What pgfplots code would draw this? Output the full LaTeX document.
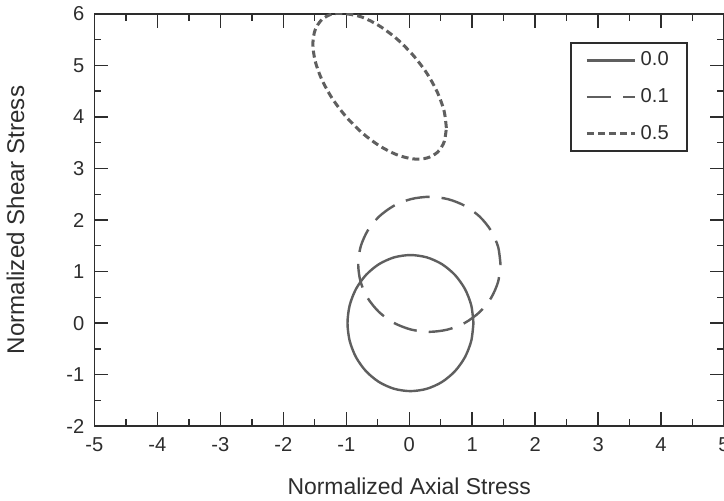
\documentclass[border=0pt]{standalone}
\usepackage{pgfplots}
\pgfplotsset{compat=1.18}
\usepackage{fontspec}
\setmainfont{Liberation Sans}
\definecolor{linegray}{RGB}{95,95,95}
\definecolor{axgray}{RGB}{45,45,45}
\begin{document}
\begin{tikzpicture}[trim axis right]
\begin{axis}[
    scale only axis,
    width=313pt, height=205pt,
    xmin=-5, xmax=5, ymin=-2, ymax=6,
    xtick={-5,...,5}, ytick={-2,...,6},
    minor tick num=1,
    tick align=inside,
    major tick length=7pt,
    minor tick length=3.5pt,
    axis line style={axgray, line width=0.8pt},
    every tick/.style={axgray, line width=0.7pt},
    tick label style={font=\fontsize{10}{12}\selectfont, text=axgray},
    xticklabel style={yshift=-2pt},
    yticklabel style={xshift=-1.5pt},
    /pgf/number format/assume math mode=true,
    xlabel={Normalized Axial Stress},
    ylabel={Normalized Shear Stress},
    label style={text=axgray},
    xlabel style={font=\fontsize{11.4}{13}\selectfont, yshift=-6pt},
    ylabel style={font=\fontsize{12}{14}\selectfont, yshift=14pt},
    legend style={at={(0.9425,0.932)}, anchor=north east,
      draw=axgray, line width=1pt, font=\fontsize{10}{12}\selectfont,
      text=axgray, row sep=5.7pt, inner xsep=7pt, inner ysep=2.5pt},
    legend cell align=left,
    legend image code/.code={\draw[#1] (0pt,0pt) -- (24pt,0pt);},
]
% 0.0
\addplot[linegray, line width=1.2pt, smooth] coordinates {
(1.02,0) (0.986,0.342) (0.886,0.66) (0.727,0.933) (0.52,1.143) (0.279,1.275)
(0.02,1.32) (-0.239,1.275) (-0.48,1.143) (-0.687,0.933) (-0.846,0.66) (-0.946,0.342)
(-0.98,0) (-0.946,-0.342) (-0.846,-0.66) (-0.687,-0.933) (-0.48,-1.143) (-0.239,-1.275)
(0.02,-1.32) (0.279,-1.275) (0.52,-1.143) (0.727,-0.933) (0.886,-0.66) (0.986,-0.342)
(1.02,0)};
\addlegendentry{0.0}
% 0.1
\addplot[linegray, line width=1.2pt, smooth, dash pattern=on 12pt off 6pt] coordinates {
(1.45,1.14) (1.412,1.479) (1.299,1.795) (1.119,2.066) (0.885,2.275) (0.613,2.405)
(0.32,2.45) (0.027,2.405) (-0.245,2.275) (-0.479,2.066) (-0.659,1.795) (-0.772,1.479)
(-0.81,1.14) (-0.772,0.801) (-0.659,0.485) (-0.479,0.214) (-0.245,0.005) (0.027,-0.125)
(0.32,-0.17) (0.613,-0.125) (0.885,0.005) (1.119,0.214) (1.299,0.485) (1.412,0.801)
(1.45,1.14)};
\addlegendentry{0.1}
% 0.5
\addplot[linegray, line width=1.5pt, smooth, dash pattern=on 3.5pt off 2pt] coordinates {
(0.59,3.785) (0.554,4.114) (0.448,4.476) (0.28,4.847) (0.06,5.2) (-0.196,5.513)
(-0.47,5.763) (-0.744,5.934) (-1.0,6.0) (-1.22,5.998) (-1.388,5.887) (-1.494,5.688)
(-1.53,5.415) (-1.494,5.086) (-1.388,4.724) (-1.22,4.353) (-1.0,4.0) (-0.744,3.687)
(-0.47,3.437) (-0.196,3.266) (0.06,3.185) (0.28,3.202) (0.448,3.313) (0.554,3.512)
(0.59,3.785)};
\addlegendentry{0.5}
\end{axis}
\end{tikzpicture}
\end{document}
